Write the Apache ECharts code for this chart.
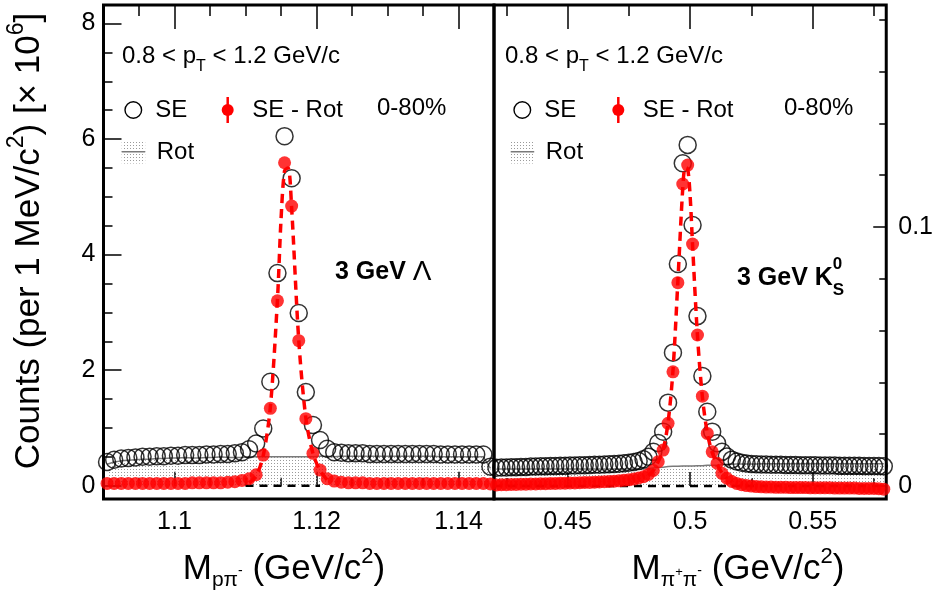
<!DOCTYPE html>
<html>
<head>
<meta charset="utf-8">
<script src="https://cdn.jsdelivr.net/npm/echarts@6/dist/echarts.min.js"></script>
<style>
  html, body { margin: 0; padding: 0; background: #fff; }
  #chart { width: 936px; height: 597px; }
</style>
</head>
<body>
<div id="chart"></div>
<script>
// ---------- Lambda -> p pi- (1 MeV bins, GeV/c^2), counts in units of 10^6 ----------
const lamMass = [
  1.0905, 1.0915, 1.0925, 1.0935, 1.0945, 1.0955, 1.0965, 1.0975, 1.0985, 1.0995,
  1.1005, 1.1015, 1.1025, 1.1035, 1.1045, 1.1055, 1.1065, 1.1075, 1.1085, 1.1095,
  1.1105, 1.1115, 1.1125, 1.1135, 1.1145, 1.1155, 1.1165, 1.1175, 1.1185, 1.1195,
  1.1205, 1.1215, 1.1225, 1.1235, 1.1245, 1.1255, 1.1265, 1.1275, 1.1285, 1.1295,
  1.1305, 1.1315, 1.1325, 1.1335, 1.1345, 1.1355, 1.1365, 1.1375, 1.1385, 1.1395,
  1.1405, 1.1415, 1.1425, 1.1435, 1.1445
];
const lamSE = [
  0.41, 0.45, 0.47, 0.48, 0.49, 0.50, 0.50, 0.51, 0.51, 0.52,
  0.52, 0.53, 0.53, 0.53, 0.54, 0.54, 0.55, 0.55, 0.56, 0.58,
  0.63, 0.73, 0.99, 1.80, 3.68, 6.05, 5.32, 2.99, 1.62, 1.05,
  0.79, 0.64, 0.58, 0.57, 0.56, 0.56, 0.56, 0.55, 0.55, 0.55,
  0.55, 0.55, 0.55, 0.55, 0.55, 0.55, 0.55, 0.54, 0.54, 0.54,
  0.54, 0.54, 0.54, 0.54, 0.33
];
const lamSERot = [
  0.04, 0.04, 0.04, 0.04, 0.04, 0.04, 0.04, 0.04, 0.04, 0.04,
  0.04, 0.04, 0.05, 0.05, 0.05, 0.05, 0.05, 0.06, 0.07, 0.09,
  0.12, 0.19, 0.53, 1.34, 3.20, 5.59, 4.84, 2.51, 1.16, 0.56,
  0.27, 0.12, 0.08, 0.06, 0.05, 0.05, 0.05, 0.04, 0.04, 0.04,
  0.04, 0.04, 0.04, 0.04, 0.04, 0.04, 0.04, 0.04, 0.04, 0.04,
  0.04, 0.04, 0.04, 0.04, 0.03
];
const lamRot = [
  0.37, 0.41, 0.43, 0.44, 0.45, 0.46, 0.46, 0.47, 0.47, 0.48,
  0.48, 0.49, 0.48, 0.48, 0.49, 0.49, 0.50, 0.49, 0.49, 0.49,
  0.50, 0.50, 0.50, 0.50, 0.50, 0.50, 0.50, 0.50, 0.50, 0.50,
  0.51, 0.51, 0.50, 0.51, 0.51, 0.51, 0.51, 0.51, 0.51, 0.51,
  0.51, 0.51, 0.51, 0.51, 0.51, 0.51, 0.51, 0.50, 0.50, 0.50,
  0.50, 0.50, 0.50, 0.50, 0.30
];
// signal fit curve and residual-background (zero) line
const lamFitMass   = [1.1105, 1.1115, 1.1125, 1.1135, 1.1145, 1.1150, 1.1155, 1.1160, 1.1165, 1.1175, 1.1185, 1.1195, 1.1205, 1.1215];
const lamFitCounts = [0.05,   0.17,   0.52,   1.36,   3.22,   4.60,   5.45,   5.50,   4.80,   2.52,   1.17,   0.56,   0.26,   0.10];
const lamZeroMass  = [1.1100, 1.1205];

// ---------- K0S -> pi+ pi- (2 MeV bins), counts in units of 10^6 ----------
const kMass = [
  0.421, 0.423, 0.425, 0.427, 0.429, 0.431, 0.433, 0.435, 0.437, 0.439,
  0.441, 0.443, 0.445, 0.447, 0.449, 0.451, 0.453, 0.455, 0.457, 0.459,
  0.461, 0.463, 0.465, 0.467, 0.469, 0.471, 0.473, 0.475, 0.477, 0.479,
  0.481, 0.483, 0.485, 0.487, 0.489, 0.491, 0.493, 0.495, 0.497, 0.499,
  0.501, 0.503, 0.505, 0.507, 0.509, 0.511, 0.513, 0.515, 0.517, 0.519,
  0.521, 0.523, 0.525, 0.527, 0.529, 0.531, 0.533, 0.535, 0.537, 0.539,
  0.541, 0.543, 0.545, 0.547, 0.549, 0.551, 0.553, 0.555, 0.557, 0.559,
  0.561, 0.563, 0.565, 0.567, 0.569, 0.571, 0.573, 0.575, 0.577, 0.579
];
const kSE = [
  0.0071, 0.0072, 0.0072, 0.0073, 0.0073, 0.0074, 0.0074, 0.0075, 0.0075, 0.0076,
  0.0076, 0.0077, 0.0077, 0.0078, 0.0078, 0.0079, 0.0079, 0.0080, 0.0080, 0.0081,
  0.0082, 0.0082, 0.0083, 0.0084, 0.0085, 0.0086, 0.0088, 0.0090, 0.0093, 0.0097,
  0.0103, 0.0113, 0.0132, 0.0166, 0.0210, 0.0322, 0.0515, 0.0857, 0.1246, 0.1317,
  0.1008, 0.0656, 0.0425, 0.0287, 0.0210, 0.0165, 0.0132, 0.0114, 0.0102, 0.0095,
  0.0090, 0.0087, 0.0085, 0.0084, 0.0083, 0.0083, 0.0082, 0.0082, 0.0082, 0.0081,
  0.0081, 0.0081, 0.0080, 0.0080, 0.0080, 0.0080, 0.0079, 0.0079, 0.0079, 0.0079,
  0.0078, 0.0078, 0.0078, 0.0078, 0.0078, 0.0077, 0.0077, 0.0077, 0.0077, 0.0076
];
const kSERot = [
  0.0004, 0.0005, 0.0005, 0.0006, 0.0006, 0.0007, 0.0007, 0.0008, 0.0008, 0.0009,
  0.0009, 0.0010, 0.0010, 0.0011, 0.0011, 0.0012, 0.0012, 0.0013, 0.0014, 0.0014,
  0.0015, 0.0016, 0.0017, 0.0018, 0.0019, 0.0020, 0.0022, 0.0024, 0.0027, 0.0031,
  0.0036, 0.0045, 0.0060, 0.0094, 0.0139, 0.0242, 0.0441, 0.0785, 0.1166, 0.1239,
  0.0934, 0.0583, 0.0347, 0.0203, 0.0132, 0.0088, 0.0049, 0.0030, 0.0018, 0.0010,
  0.0005, 0.0002, 0.0000, -0.0002, -0.0003, -0.0004, -0.0004, -0.0005, -0.0005, -0.0005,
  -0.0006, -0.0006, -0.0006, -0.0006, -0.0007, -0.0007, -0.0007, -0.0007, -0.0007, -0.0008,
  -0.0008, -0.0008, -0.0008, -0.0008, -0.0009, -0.0009, -0.0009, -0.0009, -0.0010, -0.0012
];
const kRot = [
  0.0066, 0.0066, 0.0066, 0.0066, 0.0066, 0.0066, 0.0066, 0.0066, 0.0066, 0.0066,
  0.0066, 0.0066, 0.0066, 0.0066, 0.0066, 0.0066, 0.0066, 0.0066, 0.0066, 0.0066,
  0.0066, 0.0066, 0.0066, 0.0066, 0.0066, 0.0066, 0.0066, 0.0066, 0.0066, 0.0066,
  0.0067, 0.0068, 0.0070, 0.0072, 0.0073, 0.0075, 0.0076, 0.0076, 0.0077, 0.0077,
  0.0077, 0.0078, 0.0078, 0.0080, 0.0080, 0.0080, 0.0082, 0.0084, 0.0084, 0.0085,
  0.0085, 0.0085, 0.0085, 0.0085, 0.0086, 0.0086, 0.0086, 0.0086, 0.0086, 0.0086,
  0.0086, 0.0086, 0.0086, 0.0086, 0.0086, 0.0086, 0.0086, 0.0086, 0.0086, 0.0086,
  0.0086, 0.0086, 0.0086, 0.0086, 0.0086, 0.0086, 0.0086, 0.0086, 0.0086, 0.0086
];
const kFitMass   = [0.483, 0.485, 0.487, 0.489, 0.491, 0.493, 0.495, 0.497, 0.498, 0.499, 0.500, 0.501, 0.503, 0.505, 0.507, 0.509, 0.511, 0.513, 0.515];
const kFitCounts = [0.0040, 0.0060, 0.0095, 0.0140, 0.0245, 0.0445, 0.0790, 0.1150, 0.1230, 0.1225, 0.1120, 0.0930, 0.0580, 0.0345, 0.0205, 0.0130, 0.0085, 0.0050, 0.0030];
const kZeroMass  = [0.42, 0.58];

// ---------- axis ranges, ticks and tick labels ----------
const lamRange = [1.09, 1.145];
const kRange = [0.42, 0.58];
const lamCountRange = [-0.23, 8.32];
const kCountRange = [-0.005, 0.1857];
const lamMassLabels = [1.10, 1.12, 1.14];
const lamMassMinor = [1.095, 1.105, 1.11, 1.115, 1.125, 1.13, 1.135];
const kMassLabels = [0.45, 0.50, 0.55];
const kMassMinor = [0.425, 0.475, 0.525, 0.575];
const lamCountLabels = [0, 2, 4, 6, 8];
const lamCountMinor = [0.5, 1, 1.5, 2.5, 3, 3.5, 4.5, 5, 5.5, 6.5, 7, 7.5];
const kCountLabels = [0, 0.1];
const kCountMinor = [0.02, 0.04, 0.06, 0.08, 0.12, 0.14, 0.16, 0.18];

const FAMILY = '"Liberation Sans", Arial, Helvetica, sans-serif';
const RED = '#ff0000';
const ROT_LINE = '#7a7a7a';

// dotted fill used for the rotated-background band
function dotPattern() {
  const c = document.createElement('canvas');
  c.width = 3; c.height = 3;
  const g = c.getContext('2d');
  g.fillStyle = '#9a9a9a';
  g.fillRect(1, 1, 1, 1);
  return c;
}
const hatch = { image: dotPattern(), repeat: 'repeat' };

const zip = (xs, ys) => xs.map((x, i) => [x, ys[i]]);

function xAxis(grid, pos, range, ticks, len, labels) {
  return {
    type: 'value', gridIndex: grid, position: pos, min: range[0], max: range[1],
    axisLine: { show: false }, splitLine: { show: false },
    axisTick: { show: true, inside: true, length: len, customValues: ticks, lineStyle: { color: '#000', width: 1.5 } },
    axisLabel: labels ? { show: true, customValues: labels, color: '#000', fontSize: 25, fontFamily: FAMILY, margin: 11 } : { show: false }
  };
}
function yAxis(grid, pos, range, ticks, len, labels, margin) {
  return {
    type: 'value', gridIndex: grid, position: pos, min: range[0], max: range[1],
    axisLine: { show: false }, splitLine: { show: false },
    axisTick: { show: true, inside: true, length: len, customValues: ticks, lineStyle: { color: '#000', width: 1.5 } },
    axisLabel: labels ? { show: true, customValues: labels, color: '#000', fontSize: 25, fontFamily: FAMILY, margin: margin } : { show: false }
  };
}

// ---------- text helpers (sub/superscripts laid out piece by piece) ----------
const measureCtx = document.createElement('canvas').getContext('2d');
function fontOf(p) { return (p.bold ? 'bold ' : '') + p.size + 'px ' + FAMILY; }
function textRun(x0, y0, parts, center) {
  let total = 0;
  parts.forEach(p => { measureCtx.font = fontOf(p); p.w = measureCtx.measureText(p.t).width; if (p.adv !== false) total += p.w; });
  let x = center ? x0 - total / 2 : x0;
  return parts.map(p => {
    const el = {
      type: 'text', x: x, y: y0 + (p.dy || 0), silent: true,
      style: { text: p.t, font: fontOf(p), fill: '#000', align: 'left', verticalAlign: 'middle' }
    };
    if (p.adv !== false) x += p.w;
    return el;
  });
}

function legendBlock(seX, redX, rotX, rotY) {
  const els = [];
  els.push({ type: 'circle', shape: { cx: seX, cy: 110, r: 8.3 }, style: { fill: 'none', stroke: '#000', lineWidth: 1.4 }, silent: true });
  els.push(...textRun(seX + 22, 110, [{ t: 'SE', size: 24 }]));
  els.push({ type: 'line', shape: { x1: redX, y1: 97, x2: redX, y2: 123 }, style: { stroke: RED, lineWidth: 2.5 }, silent: true });
  els.push({ type: 'circle', shape: { cx: redX, cy: 110, r: 6 }, style: { fill: RED }, silent: true });
  els.push(...textRun(redX + 24.5, 110, [{ t: 'SE - Rot', size: 24 }]));
  els.push({ type: 'rect', shape: { x: rotX, y: rotY, width: 23.5, height: 23.5 }, style: { fill: hatch }, silent: true });
  els.push({ type: 'line', shape: { x1: rotX, y1: rotY + 11.75, x2: rotX + 23.5, y2: rotY + 11.75 }, style: { stroke: ROT_LINE, lineWidth: 1.5 }, silent: true });
  els.push(...textRun(rotX + 35, rotY + 12, [{ t: 'Rot', size: 24 }]));
  return els;
}

const graphics = [];
// kinematic selection and centrality
graphics.push(...textRun(122, 56, [{ t: '0.8 < p', size: 24 }, { t: 'T', size: 16, dy: 11 }, { t: ' < 1.2 GeV/c', size: 24 }]));
graphics.push(...textRun(505, 56, [{ t: '0.8 < p', size: 24 }, { t: 'T', size: 16, dy: 11 }, { t: ' < 1.2 GeV/c', size: 24 }]));
graphics.push(...textRun(377, 108, [{ t: '0-80%', size: 24 }]));
graphics.push(...textRun(784, 108, [{ t: '0-80%', size: 24 }]));
graphics.push(...legendBlock(133.3, 227.7, 121.7, 140));
graphics.push(...legendBlock(522.3, 618.3, 510.7, 140));
// particle labels
graphics.push(...textRun(335, 272, [{ t: '3 GeV ', size: 25, bold: true }, { t: '\u039B', size: 28 }]));
graphics.push(...textRun(737, 278, [{ t: '3 GeV K', size: 25, bold: true }, { t: '0', size: 17, bold: true, dy: -14, adv: false }, { t: 'S', size: 17, bold: true, dy: 12 }]));
// axis titles
graphics.push(...textRun(284, 569, [
  { t: 'M', size: 35 }, { t: 'p\u03C0', size: 21, dy: 11 }, { t: '-', size: 14, dy: 2 },
  { t: ' (GeV/c', size: 35 }, { t: '2', size: 22, dy: -12 }, { t: ')', size: 35 }
], true));
graphics.push(...textRun(738, 569, [
  { t: 'M', size: 35 }, { t: '\u03C0', size: 21, dy: 11 }, { t: '+', size: 13, dy: 3 }, { t: '\u03C0', size: 21, dy: 11 }, { t: '-', size: 14, dy: 2 },
  { t: ' (GeV/c', size: 35 }, { t: '2', size: 22, dy: -12 }, { t: ')', size: 35 }
], true));
graphics.push({
  type: 'group', x: 29, y: 241, rotation: Math.PI / 2, silent: true,
  children: textRun(0, 0, [
    { t: 'Counts (per 1 MeV/c', size: 35 }, { t: '2', size: 23, dy: -12 },
    { t: ') [\u00D7 10', size: 35 }, { t: '6', size: 23, dy: -12 }, { t: ']', size: 35 }
  ], true)
});

const frame = { show: true, borderColor: '#000', borderWidth: 3, backgroundColor: 'transparent' };

const option = {
  animation: false,
  backgroundColor: '#fff',
  grid: [
    Object.assign({ left: 103.5, top: 5, width: 390.5, height: 494 }, frame),
    Object.assign({ left: 494, top: 5, width: 396.5, height: 494 }, frame)
  ],
  xAxis: [
    xAxis(0, 'bottom', lamRange, lamMassLabels, 14, lamMassLabels),
    xAxis(0, 'bottom', lamRange, lamMassMinor, 8, null),
    xAxis(0, 'top', lamRange, lamMassLabels, 24, null),
    xAxis(0, 'top', lamRange, lamMassMinor, 11, null),
    xAxis(1, 'bottom', kRange, kMassLabels, 14, kMassLabels),
    xAxis(1, 'bottom', kRange, kMassMinor, 8, null),
    xAxis(1, 'top', kRange, kMassLabels, 24, null),
    xAxis(1, 'top', kRange, kMassMinor, 11, null)
  ],
  yAxis: [
    yAxis(0, 'left', lamCountRange, lamCountLabels, 18, lamCountLabels, 8),
    yAxis(0, 'left', lamCountRange, lamCountMinor, 9, null),
    yAxis(1, 'right', kCountRange, kCountLabels, 13, kCountLabels, 12),
    yAxis(1, 'right', kCountRange, kCountMinor, 7, null)
  ],
  series: [
    // Lambda panel
    { type: 'line', xAxisIndex: 0, yAxisIndex: 0, z: 1, data: zip(lamMass, lamRot), symbol: 'none',
      lineStyle: { color: ROT_LINE, width: 1.5 }, areaStyle: { color: hatch, origin: 'auto', opacity: 1 } },
    { type: 'line', xAxisIndex: 0, yAxisIndex: 0, z: 2, data: lamZeroMass.map(m => [m, 0]), symbol: 'none',
      lineStyle: { color: '#000', width: 2.5, type: [8, 6] } },
    { type: 'scatter', xAxisIndex: 0, yAxisIndex: 0, z: 3, data: zip(lamMass, lamSE), symbol: 'circle', symbolSize: 17,
      itemStyle: { color: 'rgba(0,0,0,0)', borderColor: '#000', borderWidth: 1.5 } },
    { type: 'scatter', xAxisIndex: 0, yAxisIndex: 0, z: 4, data: zip(lamMass, lamSERot), symbol: 'circle', symbolSize: 13,
      itemStyle: { color: RED } },
    { type: 'line', xAxisIndex: 0, yAxisIndex: 0, z: 5, data: zip(lamFitMass, lamFitCounts), symbol: 'none', smooth: 0.3,
      lineStyle: { color: RED, width: 3.5, type: [9, 6] } },
    // K0S panel
    { type: 'line', xAxisIndex: 4, yAxisIndex: 2, z: 1, data: zip(kMass, kRot), symbol: 'none',
      lineStyle: { color: ROT_LINE, width: 1.5 }, areaStyle: { color: hatch, origin: 'auto', opacity: 1 } },
    { type: 'line', xAxisIndex: 4, yAxisIndex: 2, z: 2, data: kZeroMass.map(m => [m, 0]), symbol: 'none',
      lineStyle: { color: '#000', width: 2.5, type: [8, 6] } },
    { type: 'scatter', xAxisIndex: 4, yAxisIndex: 2, z: 3, data: zip(kMass, kSE), symbol: 'circle', symbolSize: 17,
      itemStyle: { color: 'rgba(0,0,0,0)', borderColor: '#000', borderWidth: 1.5 } },
    { type: 'scatter', xAxisIndex: 4, yAxisIndex: 2, z: 4, data: zip(kMass, kSERot), symbol: 'circle', symbolSize: 13,
      itemStyle: { color: RED } },
    { type: 'line', xAxisIndex: 4, yAxisIndex: 2, z: 5, data: zip(kFitMass, kFitCounts), symbol: 'none', smooth: 0.3,
      lineStyle: { color: RED, width: 3.5, type: [9, 6] } }
  ],
  graphic: graphics
};

const chart = echarts.init(document.getElementById('chart'), null, { renderer: 'canvas' });
chart.setOption(option);
</script>
</body>
</html>
